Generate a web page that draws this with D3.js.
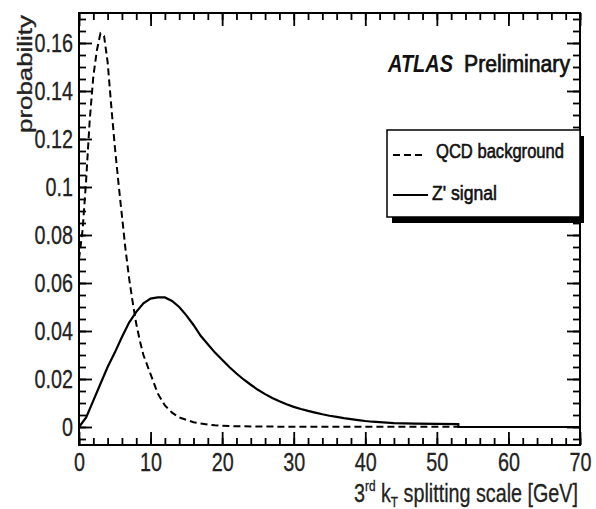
<!DOCTYPE html>
<html><head><meta charset="utf-8">
<script src="https://cdn.jsdelivr.net/npm/d3@7"></script>
<style>
html,body{margin:0;padding:0;background:#fff;}
svg{display:block;font-family:"Liberation Sans",Arial,Helvetica,sans-serif;}
</style></head>
<body><svg id="c" width="596" height="509"></svg>
<script>
// ---- data ----
const qcdX = [0,0.5,1,1.5,2,2.5,3,3.5,4,4.5,5,5.5,6,6.5,7,7.5,8,8.5,9,9.5,10,11,12,13,14,15,16,17,18,19,20,22,25,30,35,40,45,50,53];
const qcdY = [0.070,0.082,0.103,0.128,0.146,0.157,0.164,0.163,0.152,0.134,0.117,0.102,0.088,0.074,0.062,0.052,0.043,0.036,0.030,0.026,0.022,0.014,0.009,0.006,0.004,0.003,0.002,0.0015,0.001,0.0007,0.0005,0.0003,0.0002,0.0001,0.0001,0.0001,0.0001,0.0001,0.0001];
const sigX = [0,1,2,3,4,5,6,7,8,9,10,11,12,13,14,15,16,17,18,19,20,21,22,23,24,25,26,27,28,29,30,31,32,33,34,35,36,37,38,39,40,41,42,43,44,47,50,53,53,70];
const sigY = [0,0.004,0.011,0.018,0.025,0.031,0.0375,0.0435,0.048,0.0515,0.0535,0.054,0.054,0.0525,0.050,0.0465,0.0425,0.038,0.0345,0.031,0.028,0.025,0.0223,0.0198,0.0176,0.0155,0.0137,0.0121,0.0107,0.0095,0.0084,0.0075,0.0067,0.006,0.0053,0.0047,0.0042,0.0037,0.0033,0.0029,0.0025,0.0022,0.002,0.0018,0.0016,0.0014,0.0013,0.0012,0,0];
const xMajor = [0,10,20,30,40,50,60,70];
const yMajor = [0,0.02,0.04,0.06,0.08,0.1,0.12,0.14,0.16];
const yLabels = ["0","0.02","0.04","0.06","0.08","0.1","0.12","0.14","0.16"];
const legendLabels = ["QCD background","Z' signal"];

// ---- layout ----
const L=79, R=580, T=13, B=445;
const svg=d3.select("#c");
const x=d3.scaleLinear().domain([0,70]).range([L,R]);
const y=d3.scaleLinear().domain([-0.0075,0.1725]).range([B,T]);
const xMinor=d3.range(0,70.001,2);
const yMinor=d3.range(-0.005,0.1726,0.005);

function styleAxis(g){g.select(".domain").remove();g.selectAll("line").attr("stroke","#000").attr("stroke-width",1.8);}

// minor ticks
svg.append("g").attr("transform",`translate(0,${B})`).call(d3.axisBottom(x).tickValues(xMinor).tickSize(-7).tickFormat("")).call(styleAxis);
svg.append("g").attr("transform",`translate(0,${T})`).call(d3.axisTop(x).tickValues(xMinor).tickSize(-7).tickFormat("")).call(styleAxis);
svg.append("g").attr("transform",`translate(${L},0)`).call(d3.axisLeft(y).tickValues(yMinor).tickSize(-7).tickFormat("")).call(styleAxis);
svg.append("g").attr("transform",`translate(${R},0)`).call(d3.axisRight(y).tickValues(yMinor).tickSize(-7).tickFormat("")).call(styleAxis);
// major ticks
const xa=svg.append("g").attr("transform",`translate(0,${B})`).call(d3.axisBottom(x).tickValues(xMajor).tickSize(-13).tickPadding(8).tickFormat(d3.format("d"))).call(styleAxis);
svg.append("g").attr("transform",`translate(0,${T})`).call(d3.axisTop(x).tickValues(xMajor).tickSize(-13).tickFormat("")).call(styleAxis);
const ya=svg.append("g").attr("transform",`translate(${L},0)`).call(d3.axisLeft(y).tickValues(yMajor).tickSize(-13).tickPadding(6).tickFormat((d,i)=>yLabels[i])).call(styleAxis);
svg.append("g").attr("transform",`translate(${R},0)`).call(d3.axisRight(y).tickValues(yMajor).tickSize(-13).tickFormat("")).call(styleAxis);

function condense(sel,f){sel.each(function(){const w=this.getComputedTextLength();d3.select(this).attr("textLength",w*f).attr("lengthAdjust","spacingAndGlyphs");});}
xa.selectAll("text").attr("font-size",25).attr("fill","#222").attr("stroke","#222").attr("stroke-width",0.3).attr("font-family","Liberation Sans, Arial, sans-serif").call(condense,0.79);
ya.selectAll("text").attr("font-size",25).attr("fill","#222").attr("stroke","#222").attr("stroke-width",0.3).attr("font-family","Liberation Sans, Arial, sans-serif").call(condense,0.79);

// frame
svg.append("rect").attr("x",L).attr("y",T).attr("width",R-L).attr("height",B-T).attr("fill","none").attr("stroke","#000").attr("stroke-width",2);

// curves
const line=d3.line().x(d=>x(d[0])).y(d=>y(d[1]));
svg.append("path").datum(qcdX.map((v,i)=>[v,qcdY[i]])).attr("d",line).attr("fill","none").attr("stroke","#000").attr("stroke-width",2).attr("stroke-dasharray","7,4");
svg.append("path").datum(sigX.map((v,i)=>[v,sigY[i]])).attr("d",line).attr("fill","none").attr("stroke","#000").attr("stroke-width",2.2);

// titles
const xt=svg.append("text").attr("transform","translate(578,502) scale(0.79,1)").attr("text-anchor","end").attr("font-size",25).attr("fill","#222").attr("stroke","#222").attr("stroke-width",0.3);
xt.append("tspan").text("3");
xt.append("tspan").attr("font-size",15).attr("dy",-11).text("rd");
xt.append("tspan").attr("dy",11).text(" k");
xt.append("tspan").attr("font-size",15).attr("dy",5).text("T");
xt.append("tspan").attr("dy",-5).text(" splitting scale [GeV]");

svg.append("text").attr("transform","translate(32,15) rotate(-90)").attr("text-anchor","end").attr("font-size",20).attr("fill","#222").attr("stroke","#222").attr("stroke-width",0.3).attr("textLength",118).attr("lengthAdjust","spacingAndGlyphs").text("probability");

// ATLAS label
svg.append("text").attr("x",388).attr("y",72).attr("font-size",23).attr("font-weight","bold").attr("font-style","italic").attr("fill","#111").attr("textLength",65).attr("lengthAdjust","spacingAndGlyphs").text("ATLAS");
svg.append("text").attr("x",464).attr("y",72).attr("font-size",23).attr("fill","#111").attr("stroke","#111").attr("stroke-width",0.7).attr("textLength",106).attr("lengthAdjust","spacingAndGlyphs").text("Preliminary");

// legend
const lg=svg.append("g");
lg.append("rect").attr("x",392).attr("y",217).attr("width",192).attr("height",6).attr("fill","#000");
lg.append("rect").attr("x",580).attr("y",136).attr("width",4).attr("height",87).attr("fill","#000");
lg.append("rect").attr("x",387).attr("y",130).attr("width",193).attr("height",87).attr("fill","#fff").attr("stroke","#000").attr("stroke-width",1.5);
lg.append("line").attr("x1",393).attr("x2",423).attr("y1",155).attr("y2",155).attr("stroke","#000").attr("stroke-width",2).attr("stroke-dasharray","7,4");
lg.append("line").attr("x1",393).attr("x2",428).attr("y1",195).attr("y2",195).attr("stroke","#000").attr("stroke-width",2);
lg.append("text").attr("x",436).attr("y",158).attr("font-size",20).attr("fill","#111").attr("stroke","#111").attr("stroke-width",0.6).attr("textLength",128).attr("lengthAdjust","spacingAndGlyphs").text(legendLabels[0]);
lg.append("text").attr("x",432).attr("y",200).attr("font-size",20).attr("fill","#111").attr("stroke","#111").attr("stroke-width",0.6).attr("textLength",65).attr("lengthAdjust","spacingAndGlyphs").text(legendLabels[1]);
</script></body></html>
